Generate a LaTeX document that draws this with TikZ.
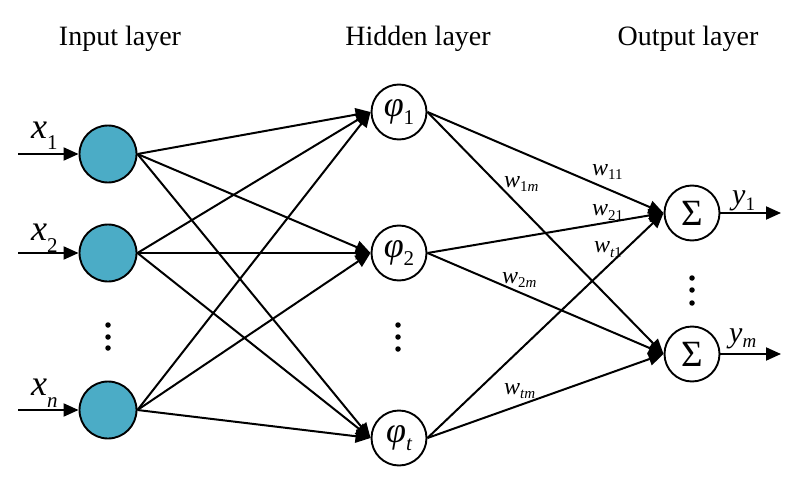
\documentclass[tikz,border=0pt]{standalone}
\usepackage{fontspec}
\setmainfont{Liberation Serif}
\usetikzlibrary{arrows.meta}
\definecolor{nodeblue}{RGB}{75,172,198}
\newcommand{\fsz}[1]{\fontsize{#1}{#1}\selectfont}
\begin{document}
\begin{tikzpicture}[x=1pt,y=-1pt,
  conn/.style={line width=2pt,-{Triangle[length=15pt,width=13pt]}},
  inneuron/.style={circle,draw,line width=1.9pt,fill=nodeblue,minimum size=57pt,inner sep=0pt},
  neuron/.style={circle,draw,line width=1.9pt,fill=white,minimum size=55pt,inner sep=0pt},
  title/.style={anchor=base,inner sep=0pt,font=\fsz{28}},
  lab/.style={anchor=base west,inner sep=0pt},
  dot/.style={circle,fill=black,inner sep=0pt,minimum size=5.5pt}]
\useasboundingbox (0,0) rectangle (800,484);

% titles
\node[title] (t1) at (120,46) {Input layer};
\node[title] (t2) at (418,46) {Hidden layer};
\node[title] (t3) at (688,46) {Output layer};

% input layer
\node[inneuron] (in1) at (108,154) {};
\node[inneuron] (in2) at (108,253) {};
\node[inneuron] (in3) at (108,410) {};
\node[dot] (di1) at (108,325) {};
\node[dot] (di2) at (108,337) {};
\node[dot] (di3) at (108,348) {};

% hidden layer
\node[neuron] (h1) at (399,112) {\fsz{36}\itshape φ\raisebox{-8pt}{\upshape\fsz{21}1}};
\node[neuron] (h2) at (399,253) {\fsz{36}\itshape φ\raisebox{-8pt}{\upshape\fsz{21}2}};
\node[neuron] (h3) at (399,438) {\fsz{36}\itshape φ\raisebox{-8pt}{\fsz{21}t}};
\node[dot] (dh1) at (398,325) {};
\node[dot] (dh2) at (398,337) {};
\node[dot] (dh3) at (398,349) {};

% output layer
\node[neuron] (o1) at (692,213) {\fsz{37}Σ};
\node[neuron] (o2) at (692,354) {\fsz{37}Σ};
\node[dot] (do1) at (692,278) {};
\node[dot] (do2) at (692,290) {};
\node[dot] (do3) at (692,303) {};

% inputs
\coordinate (s1) at (18,154);
\coordinate (s2) at (18,253);
\coordinate (s3) at (18,410);
\draw[conn] (s1) -- (in1.west);
\draw[conn] (s2) -- (in2.west);
\draw[conn] (s3) -- (in3.west);
\node[lab] (lx1) at (31,139) {\fsz{36}\itshape x\raisebox{-11pt}{\upshape\fsz{21}1}};
\node[lab] (lx2) at (31,240) {\fsz{36}\itshape x\raisebox{-12pt}{\upshape\fsz{21}2}};
\node[lab] (lx3) at (31,395) {\fsz{36}\itshape x\raisebox{-12pt}{\fsz{21}n}};

% input -> hidden
\foreach \i in {in1,in2,in3}{
  \foreach \j in {h1,h2,h3}{
    \draw[conn] (\i.east) -- (\j.west);
  }
}

% hidden -> output
\foreach \i in {h1,h2,h3}{
  \foreach \j in {o1,o2}{
    \draw[conn] (\i.east) -- (\j.west);
  }
}

% outputs
\coordinate (e1) at (781,213);
\coordinate (e2) at (781,354);
\draw[conn] (o1.east) -- (e1);
\draw[conn] (o2.east) -- (e2);
\node[lab] (ly1) at (732,204) {\fsz{30}\itshape y\raisebox{-6pt}{\upshape\fsz{19}1}};
\node[lab] (ly2) at (729,342) {\fsz{30}\itshape y\raisebox{-5pt}{\fsz{19}m}};

% weights
\node[lab] (w11) at (592,175) {\fsz{24}\itshape w\raisebox{-5pt}{\upshape\fsz{15}11}};
\node[lab] (w21) at (592,215) {\fsz{24}\itshape w\raisebox{-5pt}{\upshape\fsz{15}21}};
\node[lab] (wt1) at (594,252) {\fsz{24}\itshape w\raisebox{-5pt}{\fsz{15}t\upshape 1}};
\node[lab] (w1m) at (504,187) {\fsz{24}\itshape w\raisebox{-4pt}{\fsz{15}{\upshape 1}m}};
\node[lab] (w2m) at (502,283) {\fsz{24}\itshape w\raisebox{-4pt}{\fsz{15}{\upshape 2}m}};
\node[lab] (wtm) at (504,394) {\fsz{24}\itshape w\raisebox{-4pt}{\fsz{15}tm}};
\end{tikzpicture}
\end{document}
